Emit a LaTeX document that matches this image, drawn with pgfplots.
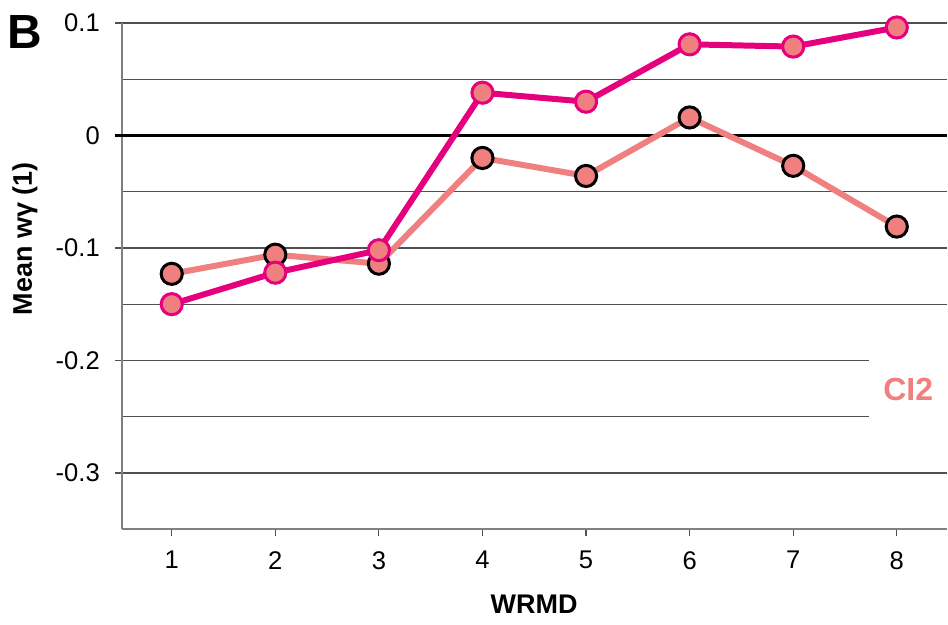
\documentclass[border=0pt]{standalone}
\usepackage{pgfplots}
\pgfplotsset{compat=1.18}
\usepackage{fontspec}
\setmainfont{Liberation Sans}
\definecolor{mag}{HTML}{E6007E}
\definecolor{salmon}{HTML}{F07F7F}
\definecolor{gridc}{HTML}{505050}
\definecolor{axc}{HTML}{808080}
\begin{document}
\begin{tikzpicture}
\begin{axis}[
  at={(0,0)}, anchor=south west,
  scale only axis, width=413pt, height=253.5pt,
  xmin=0.518, xmax=8.48, ymin=-0.35, ymax=0.1,
  axis x line=bottom, axis y line=left,
  axis line style={axc, line width=0.75pt, -},
  xtick={1,...,8}, ytick={-0.3,-0.2,-0.1,0,0.1},
  yticklabels={-0.3,-0.2,-0.1,0,0.1},
  minor ytick={-0.35,-0.25,-0.15,-0.05,0.05},
  tick align=outside, major tick length=3.5pt,
  minor tick length=0pt,
  tick style={gridc, line width=0.6pt},
  ymajorgrids, yminorgrids,
  major grid style={gridc, line width=0.6pt},
  minor grid style={gridc, line width=0.6pt},
  ticklabel style={font=\fontsize{12.8pt}{14pt}\selectfont},
  xticklabel style={yshift=-4pt},
  yticklabel style={xshift=-4pt},
  /pgf/number format/assume math mode=true,
  clip=false,
]
\fill[white] (axis cs:7.73,-0.27) rectangle (axis cs:8.48,-0.18);
\draw[black, line width=1.5pt] ([xshift=-3.5pt]axis cs:0.518,0) -- (axis cs:8.48,0);
\addplot[salmon, line width=3pt, mark=*, mark size=5.3pt,
  mark options={fill=salmon, draw=black, line width=1.5pt}]
  coordinates {(1,-0.123) (2,-0.106) (3,-0.114) (4,-0.020) (5,-0.036) (6,0.016) (7,-0.027) (8,-0.081)};
\addplot[mag, line width=3pt, mark=*, mark size=5.3pt,
  mark options={fill=salmon, draw=mag, line width=1.5pt}]
  coordinates {(1,-0.150) (2,-0.122) (3,-0.102) (4,0.038) (5,0.030) (6,0.081) (7,0.079) (8,0.096)};
\node[salmon, font=\fontsize{16pt}{18pt}\selectfont\bfseries] at (axis cs:8.11,-0.226) {CI2};
\end{axis}
\node[font=\fontsize{13.5pt}{15pt}\selectfont\bfseries] at (206.5pt,-37.5pt) {WRMD};
\node[font=\fontsize{13.5pt}{15pt}\selectfont\bfseries, rotate=90] at (-48.5pt,145.5pt) {Mean wγ (1)};
\node[font=\fontsize{24pt}{26pt}\selectfont\bfseries] at (-48.5pt,249pt) {B};
\useasboundingbox (-61pt,-47.5pt) rectangle (413pt,265pt);
\end{tikzpicture}
\end{document}
